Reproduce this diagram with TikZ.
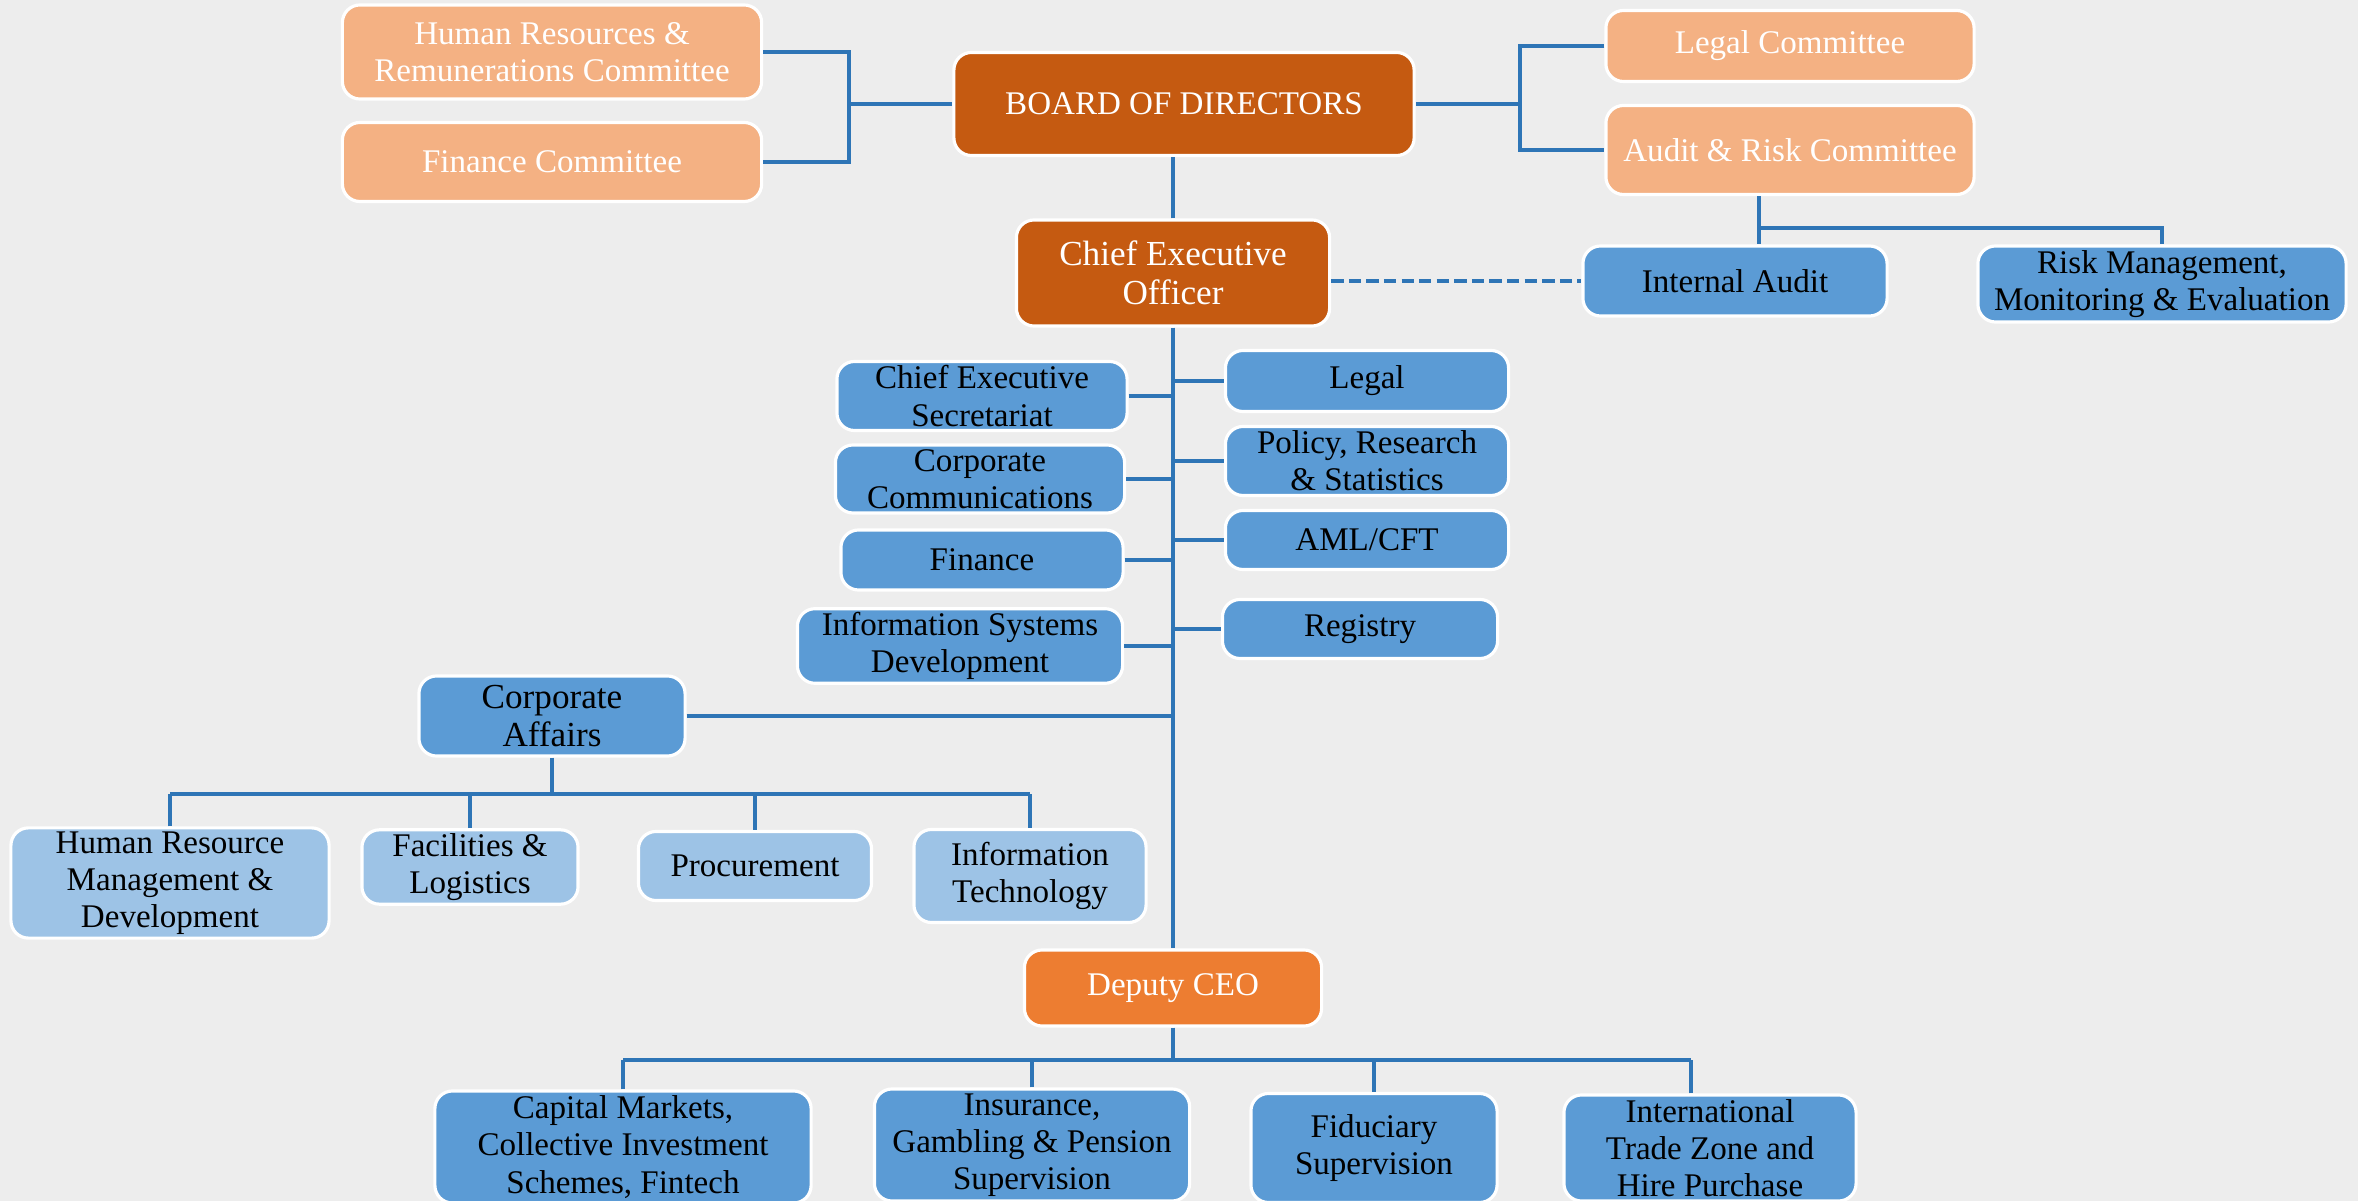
\documentclass[tikz,border=0pt]{standalone}
\usepackage{fontspec}
\setmainfont{Liberation Serif}
\usepackage{tikz}
\usetikzlibrary{positioning,calc}
\definecolor{bgcol}{HTML}{EDEDED}
\definecolor{darkorg}{HTML}{C55A11}
\definecolor{lightorg}{HTML}{F4B183}
\definecolor{midorg}{HTML}{ED7D31}
\definecolor{deptblue}{HTML}{5B9BD5}
\definecolor{unitblue}{HTML}{9DC3E6}
\definecolor{linkblue}{HTML}{2E75B6}

\begin{document}
\begin{tikzpicture}[x=0.01cm,y=-0.01cm,
  box/.style={draw=white,line width=0.9pt,rounded corners=5pt,align=center,
    inner sep=1pt,font=\fontsize{9.4}{10.6}\selectfont},
  big/.style={font=\fontsize{10}{11}\selectfont},
  exec/.style={box,fill=darkorg,text=white},
  cttee/.style={box,fill=lightorg,text=white},
  depty/.style={box,fill=midorg,text=white},
  dept/.style={box,fill=deptblue,text=black},
  unit/.style={box,fill=unitblue,text=black},
  link/.style={draw=linkblue,line width=1.3pt},
]
  \fill[bgcol] (0,0) rectangle (2358,1201);
  \useasboundingbox (0,0) rectangle (2358,1201);

  % board and committees
  \node[exec,minimum width=4.6cm,minimum height=1.03cm] (bod) at (1184,104) {BOARD OF DIRECTORS};
  \node[cttee,minimum width=4.19cm,minimum height=0.94cm] (hrc) at (552,52)
    {Human Resources \&\\Remunerations Committee};
  \node[cttee,minimum width=4.19cm,minimum height=0.79cm] (fc) at (552,162) {Finance Committee};
  \node[cttee,minimum width=3.68cm,minimum height=0.71cm] (lc) at (1790,46) {Legal Committee};
  \node[cttee,minimum width=3.68cm,minimum height=0.89cm] (arc) at (1790,150) {Audit \& Risk Committee};
  \node[dept,minimum width=3.04cm,minimum height=0.70cm] (ia) at (1735,281) {Internal Audit};
  \node[dept,minimum width=3.68cm,minimum height=0.76cm] (rme) at (2162,284)
    {Risk Management,\\Monitoring \& Evaluation};

  % chief executive and direct units
  \node[exec,big,minimum width=3.13cm,minimum height=1.06cm] (ceo) at (1173,273) {Chief Executive\\Officer};
  \node[dept,minimum width=2.90cm,minimum height=0.69cm] (ces) at (982,396) {Chief Executive\\Secretariat};
  \node[dept,minimum width=2.89cm,minimum height=0.68cm] (cc) at (980,479) {Corporate\\Communications};
  \node[dept,minimum width=2.82cm,minimum height=0.60cm] (fin) at (982,560) {Finance};
  \node[dept,minimum width=3.25cm,minimum height=0.71cm] (isd) at (960,646) {Information Systems\\Development};
  \node[dept,minimum width=2.83cm,minimum height=0.61cm] (leg) at (1367,381) {Legal};
  \node[dept,minimum width=2.83cm,minimum height=0.69cm] (prs) at (1367,461) {Policy, Research\\\& Statistics};
  \node[dept,minimum width=2.83cm,minimum height=0.59cm] (aml) at (1367,540) {AML/CFT};
  \node[dept,minimum width=2.75cm,minimum height=0.59cm] (reg) at (1360,629) {Registry};

  % corporate affairs
  \node[dept,big,minimum width=2.66cm,minimum height=0.80cm] (ca) at (552,716) {Corporate\\Affairs};
  \node[unit,minimum width=3.18cm,minimum height=1.09cm] (hrm) at (170,883)
    {Human Resource\\Management \&\\Development};
  \node[unit,minimum width=2.16cm,minimum height=0.71cm] (fac) at (470,867) {Facilities \&\\Logistics};
  \node[unit,minimum width=2.33cm,minimum height=0.69cm] (proc) at (755,866) {Procurement};
  \node[unit,minimum width=2.32cm,minimum height=0.93cm] (it) at (1030,876) {Information\\Technology};

  % deputy ceo
  \node[depty,minimum width=2.97cm,minimum height=0.76cm] (dcu) at (1173,988) {Deputy CEO};
  \node[dept,minimum width=3.76cm,minimum height=1.12cm] (cmk) at (623,1147)
    {Capital Markets,\\Collective Investment\\Schemes, Fintech};
  \node[dept,minimum width=3.15cm,minimum height=1.12cm] (igp) at (1032,1145)
    {Insurance,\\Gambling \& Pension\\Supervision};
  \node[dept,minimum width=2.46cm,minimum height=1.09cm] (fsu) at (1374,1148) {Fiduciary\\Supervision};
  \node[dept,minimum width=2.92cm,minimum height=1.06cm] (itz) at (1710,1148)
    {International\\Trade Zone and\\Hire Purchase};

  % connectors
  \coordinate (lbr) at (849,104);
  \coordinate (rbr) at (1520,104);
  \coordinate (abus) at (1759,228);
  \coordinate (cabus) at (555,794);
  \coordinate (dbus) at (1173,1060);

  \draw[link] (hrc.east) -| (lbr) |- (fc.east);
  \draw[link] (lbr) -- (bod.west);
  \draw[link] (lc.west) -| (rbr) |- (arc.west);
  \draw[link] (rbr) -- (bod.east);
  \draw[link] (ceo.north) -- (ceo.north |- bod.south);
  \draw[link] (abus |- arc.south) -- (abus |- ia.north);
  \draw[link] (abus) -| (rme.north);
  \draw[link,dash pattern=on 3.5pt off 1.5pt] (ceo.east |- ia.west) -- (ia.west);

  \draw[link] (ceo.south) -- (dcu.north);
  \foreach \u in {ces,cc,fin,isd,ca}
    \draw[link] (\u.east) -- (\u.east -| ceo.south);
  \foreach \u in {leg,prs,aml,reg}
    \draw[link] (\u.west) -- (\u.west -| ceo.south);

  \draw[link] (ca.south) -- (ca.south |- cabus);
  \draw[link] (cabus -| hrm.north) -- (cabus -| it.north);
  \foreach \u in {hrm,fac,proc,it}
    \draw[link] (\u.north) -- (\u.north |- cabus);

  % last drop sits left of the box centre
  \coordinate (itzdrop) at ([xshift=-0.19cm]itz.north);
  \draw[link] (dcu.south) -- (dbus);
  \draw[link] (dbus -| cmk.north) -- (dbus -| itzdrop);
  \foreach \u in {cmk.north,igp.north,fsu.north,itzdrop}
    \draw[link] (\u) -- (\u |- dbus);
\end{tikzpicture}
\end{document}
